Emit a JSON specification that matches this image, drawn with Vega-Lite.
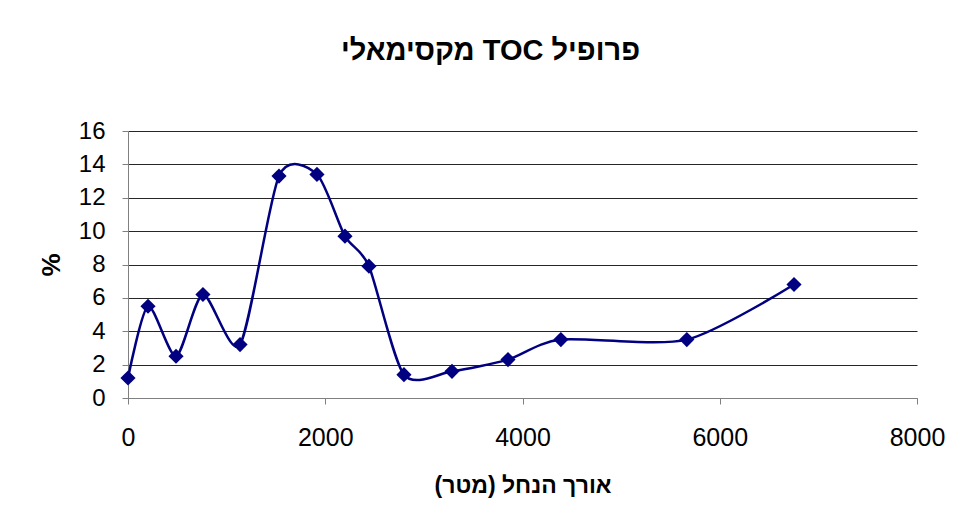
{
  "$schema": "https://vega.github.io/schema/vega-lite/v6.json",
  "width": 789,
  "height": 267,
  "autosize": "none",
  "padding": {"left": 128, "top": 131, "right": 40, "bottom": 120},
  "background": "white",
  "title": {
    "text": "\u202Bפרופיל TOC מקסימאלי\u202C",
    "font": "Liberation Sans",
    "fontSize": 29,
    "fontWeight": "bold",
    "color": "#000000",
    "anchor": "middle",
    "dx": -32,
    "offset": 53
  },
  "data": {
    "values": [
      {"dist": 0, "toc": 1.2},
      {"dist": 203, "toc": 5.5},
      {"dist": 487, "toc": 2.5},
      {"dist": 760, "toc": 6.2},
      {"dist": 1136, "toc": 3.2},
      {"dist": 1531, "toc": 13.3},
      {"dist": 1916, "toc": 13.4},
      {"dist": 2200, "toc": 9.7},
      {"dist": 2443, "toc": 7.9},
      {"dist": 2798, "toc": 1.4},
      {"dist": 3285, "toc": 1.6},
      {"dist": 3853, "toc": 2.3},
      {"dist": 4389, "toc": 3.5},
      {"dist": 5666, "toc": 3.5},
      {"dist": 6753, "toc": 6.8}
    ]
  },
  "encoding": {
    "x": {
      "field": "dist",
      "type": "quantitative",
      "scale": {"domain": [0, 8000], "nice": false, "zero": true},
      "axis": {
        "title": "\u202Bאורך הנחל (מטר)\u202C",
        "values": [0, 2000, 4000, 6000, 8000],
        "format": "d",
        "grid": false,
        "labelFlush": false,
        "labelFontSize": 25,
        "labelPadding": 21,
        "titleFontSize": 23,
        "titlePadding": 24
      }
    },
    "y": {
      "field": "toc",
      "type": "quantitative",
      "scale": {"domain": [0, 16], "nice": false},
      "axis": {
        "title": "%",
        "values": [0, 2, 4, 6, 8, 10, 12, 14, 16],
        "grid": true,
        "labelFlush": false,
        "labelFontSize": 24,
        "labelPadding": 17,
        "titleFontSize": 26,
        "titlePadding": 14
      }
    }
  },
  "layer": [
    {
      "mark": {"type": "line", "interpolate": "cardinal", "tension": 0.25, "color": "#000080", "strokeWidth": 2.5}
    },
    {
      "mark": {"type": "point", "shape": "diamond", "filled": true, "size": 230, "color": "#000080", "opacity": 1}
    }
  ],
  "config": {
    "view": {"stroke": null},
    "axis": {
      "labelFont": "Liberation Sans",
      "labelColor": "#000000",
      "titleFont": "Liberation Sans",
      "titleFontWeight": "bold",
      "titleColor": "#000000",
      "domainColor": "#808080",
      "domainWidth": 1,
      "tickColor": "#808080",
      "tickSize": 6,
      "gridColor": "#000000",
      "gridOpacity": 0.85,
      "gridWidth": 1
    }
  }
}
